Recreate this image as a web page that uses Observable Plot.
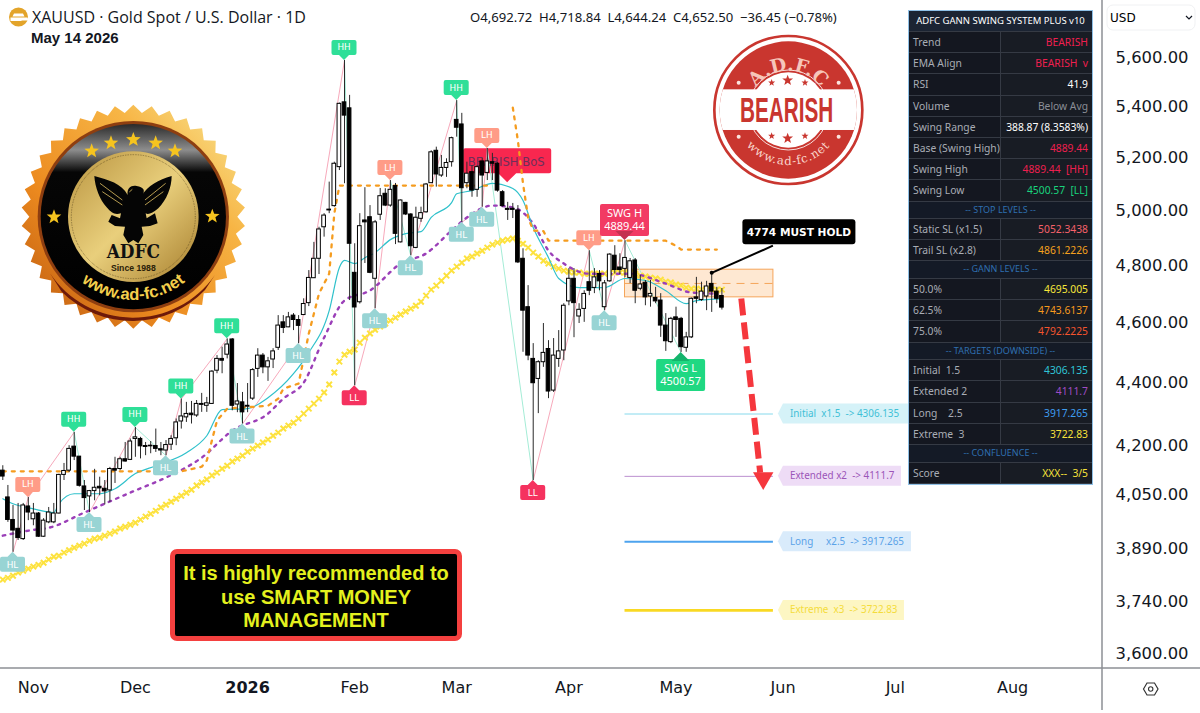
<!DOCTYPE html>
<html><head><meta charset="utf-8">
<script src="https://cdn.jsdelivr.net/npm/d3@7"></script>
<script src="https://cdn.jsdelivr.net/npm/@observablehq/plot@0.6"></script>
<style>
html,body{margin:0;padding:0;background:#fff;width:1200px;height:713px;overflow:hidden}
#wrap{position:relative;width:1200px;height:713px;font-family:"DejaVu Sans",sans-serif;color:#131722}
#chart{position:absolute;left:0;top:0}
#chart svg{display:block}
.abs{position:absolute;white-space:pre}
#panel{position:absolute;left:908px;top:10px;width:183px;border:1.5px solid #8fc0e6;background:#10141d;font:10.3px "Noto Sans",sans-serif;box-sizing:content-box}
#panel .r{display:flex;height:21.2px;line-height:20.2px;border-bottom:1px solid #353a44;box-sizing:border-box}
#panel .h{display:block;height:21px;line-height:20px;background:#1b2433;color:#fff;text-align:center;font-size:9.5px;white-space:nowrap}
#panel .s{height:17.6px;line-height:16.6px;background:#141a26;color:#2f6fb0;text-align:center;display:block;font-size:9px}
#panel .l{width:92px;padding-left:4px;color:#a9adb5;border-right:1px solid #353a44;box-sizing:border-box;background:#141720;white-space:pre}
#panel .v{flex:1;text-align:right;padding-right:4px;background:#181c24;white-space:pre}
#msg{position:absolute;left:170px;top:549px;width:292px;height:92px;box-sizing:border-box;background:#000;border:5px solid #f4403f;border-radius:7px;color:#e4f01e;font:bold 20px/23.5px "Liberation Sans",sans-serif;text-align:center;padding-top:8px}
</style></head><body>
<div id="wrap">
<div id="chart"></div>
<svg class="abs" style="left:0;top:0" width="1200" height="713" id="chrome">
  <defs>
    <linearGradient id="burst" x1="0" y1="1" x2="1" y2="0"><stop offset="0" stop-color="#b9560f"/><stop offset=".35" stop-color="#ec8a1f"/><stop offset=".7" stop-color="#f7b545"/><stop offset="1" stop-color="#f8ec9c"/></linearGradient>
    <linearGradient id="disc" x1="0" y1="0" x2="1" y2="1"><stop offset="0" stop-color="#b8933f"/><stop offset=".5" stop-color="#e9cf7c"/><stop offset="1" stop-color="#a67d2c"/></linearGradient>
    <linearGradient id="dark" x1="0" y1="0" x2="0" y2="1"><stop offset="0" stop-color="#2a2a2a"/><stop offset=".14" stop-color="#8d8d8d"/><stop offset=".26" stop-color="#060606"/><stop offset="1" stop-color="#000"/></linearGradient>
    <path id="sealArc" d="M105,350 A250,250 0 0 0 605,350"/>
    <path id="stampTop" d="M132,240 A118,118 0 0 1 368,240"/>
    <path id="stampBot" d="M85,240 A165,165 0 0 0 415,240"/>
    <clipPath id="stampClip"><circle cx="250" cy="240" r="206"/></clipPath>
  </defs>
  <line x1="0" y1="668" x2="1200" y2="668" stroke="#8d8f94" stroke-width="1.5"/>
  <line x1="1102" y1="0" x2="1102" y2="710" stroke="#8d8f94" stroke-width="1.5"/>
  <rect x="1107" y="5" width="88" height="25" rx="6" fill="#fff" stroke="#f0f1f3"/>
  <text x="1110" y="22" font-size="12">USD</text>
  <path d="M1186,16 l3,3 l3,-3" fill="none" stroke="#131722" stroke-width="1.2"/>
  <path d="M1143.5,689 l3.5,-6 h7.5 l3.5,6 l-3.5,6 h-7.5 z" fill="none" stroke="#333" stroke-width="1.2"/>
  <circle cx="1150.7" cy="689" r="2.2" fill="none" stroke="#333" stroke-width="1.1"/>
  <circle cx="18.5" cy="17" r="9.5" fill="#e3a42a"/>
  <path d="M14,13.5 h9 l1.5,3 h-12 z M10.5,17.5 h17 l1,3 h-7 v.5 h-11 z" fill="#fff"/>
  <text x="32" y="22.5" font-family="Open Sans" font-size="16" fill="#131722" xml:space="preserve">XAUUSD · Gold Spot / U.S. Dollar · 1D</text>
  <text x="31" y="43" font-family="Liberation Sans" font-weight="bold" font-size="15" fill="#131722">May 14 2026</text>
  <text x="470" y="22" font-family="Noto Sans" font-size="13.1" fill="#131722" xml:space="preserve">O4,692.72  H4,718.84  L4,644.24  C4,652.50  −36.45 (−0.78%)</text>

  <g transform="translate(15,100) scale(.3333)" id="seal">
    <path id="sealBurst" fill="url(#burst)"/>
    <path d="M105,520 A300,300 0 0 0 600,525 L570,570 A300,300 0 0 1 140,575 Z" fill="#6d1a0a"/>
    <circle cx="355" cy="350" r="287" fill="#8e3e10"/>
    <circle cx="355" cy="350" r="278" fill="url(#dark)"/>
    <circle cx="355" cy="350" r="196" fill="url(#disc)"/>
    <circle cx="355" cy="350" r="186" fill="none" stroke="#4a3a16" stroke-width="2" stroke-dasharray="2 3"/>
    <path fill="#050505" d="M238,228 C280,240 320,250 338,285 C335,262 350,255 365,258 C385,262 395,270 378,290 C400,255 430,240 470,228 C470,262 455,300 430,325 C412,340 400,345 392,340 L395,355 L420,340 L428,370 L405,378 L380,380 L385,405 L370,430 L355,420 L340,430 L325,405 L330,380 L300,378 L280,365 L290,345 L315,355 L318,340 C300,345 290,340 275,322 C255,300 240,262 238,228 Z"/>
    <path d="M255,250 L322,300 M262,275 L322,315 M452,250 L390,300 M445,275 L390,315 M352,268 l-9,8" stroke="#d9b95f" stroke-width="2.5" fill="none"/>
    <text x="355" y="474" text-anchor="middle" font-family="DejaVu Serif" font-weight="bold" font-size="54" fill="#111" textLength="160" lengthAdjust="spacingAndGlyphs">ADFC</text>
    <text x="355" y="514" text-anchor="middle" font-family="Liberation Sans Narrow,Liberation Sans" font-weight="bold" font-size="26" fill="#2a2008">Since 1988</text>
    <text font-family="Liberation Sans Narrow,Liberation Sans" font-weight="bold" font-size="50" fill="#f4cf4c"><textPath href="#sealArc" startOffset="50%" text-anchor="middle">www.ad-fc.net</textPath></text>
    <g id="sealStars" fill="#f6c41f"></g>
  </g>

  <g transform="translate(705,30) scale(.3333)" id="stamp">
    <circle cx="250" cy="240" r="222" fill="#fff" stroke="#c9362f" stroke-width="8"/>
    <circle cx="250" cy="240" r="206" fill="#c9362f"/>
    <g clip-path="url(#stampClip)"><rect x="0" y="178" width="510" height="122" fill="#fff"/></g>
    <circle cx="250" cy="240" r="113" fill="#fff"/>
    <circle cx="250" cy="240" r="120" fill="none" stroke="#fff" stroke-width="2.5"/>
    <text x="245" y="276" text-anchor="middle" font-family="Liberation Sans Narrow,Liberation Sans" font-weight="bold" font-size="104" fill="#c9362f" textLength="280" lengthAdjust="spacingAndGlyphs">BEARISH</text>
    <text font-family="DejaVu Serif" font-weight="bold" font-size="56" fill="#f6c6bb"><textPath href="#stampTop" startOffset="50%" text-anchor="middle">A.D.F.C</textPath></text>
    <text font-family="DejaVu Serif" font-size="35" fill="#f9d6cd" letter-spacing="2.5"><textPath href="#stampBot" startOffset="50%" text-anchor="middle">www.ad-fc.net</textPath></text>
    <g id="stampMarks"></g>
  </g>
</svg>
<div id="panel"></div>
<div id="msg">It is highly recommended to<br>use SMART MONEY<br>MANAGEMENT</div>
</div>
<script>
// Daily candles, one entry per bar
const candleOpen=[4123,4042,3975,3949,3919,4015,3977,3994,3926,3968,
3968,3994,4110,4123,4197,4166,4075,4045,4061,4074,
4068,4063,4128,4128,4158,4156,4221,4221,4199,4198,
4199,4189,4185,4203,4223,4276,4289,4301,4295,4332,
4326,4332,4440,4479,4493,4544,4330,4337,4323,4349,
4446,4490,4451,4477,4516,4602,4585,4625,4610,4627,
4668,4755,4824,4938,5003,5016,5163,5417,5393,4774,
4671,4963,4975,4753,4984,5062,5018,5091,4883,5028,
4985,4863,4969,4993,5102,5226,5131,5160,5182,5347,
5329,5102,5144,5077,5185,5141,5182,5176,5068,5006,
5006,5000,4824,4654,4479,4413,4468,4512,4375,4479,
4507,4674,4753,4622,4648,4741,4721,4770,4654,4744,
4835,4793,4788,4756,4818,4718,4739,4691,4686,4677,
4591,4535,4619,4614,4516,4551,4688,4679,4691,4735,
4708,4692.72];
const candleHigh=[4138,4078,4018,4024,4024,4042,4024,3997,3979,4012,
4024,4112,4145,4200,4242,4166,4093,4063,4127,4103,
4093,4133,4164,4164,4210,4221,4257,4226,4210,4213,
4252,4210,4216,4231,4284,4348,4337,4340,4343,4366,
4353,4440,4490,4518,4546,4547,4398,4369,4398,4447,
4513,4497,4484,4513,4625,4625,4636,4632,4625,4683,
4782,4883,4938,4988,5106,5182,5414,5588,5445,4878,
4988,5085,5018,4963,5082,5081,5112,5101,5039,5030,
4988,5012,5012,5101,5226,5240,5208,5195,5279,5424,
5373,5182,5169,5169,5196,5235,5216,5182,5074,5030,
5026,5018,4860,4729,4530,4473,4598,4540,4547,4574,
4666,4789,4789,4666,4711,4853,4789,4782,4747,4842,
4871,4842,4889.44,4825,4825,4764,4747,4747,4723,4701,
4632,4619,4654,4619,4568,4686,4758,4741,4744,4774,
4723,4718.84];
const candleLow=[4093,3968,3881,3915,3915,3973,3958,3924,3924,3964,
3964,3993,4093,4117,4154,4073,4003,3997,4032,4047,
4020,4027,4084,4123,4149,4154,4164,4159,4169,4175,
4179,4169,4169,4185,4200,4252,4273,4268,4289,4305,
4305,4331,4430,4430,4479,4310,4304,4268,4304,4343,
4418,4430,4405,4447,4507,4564,4584,4574,4530,4625,
4656,4754,4768,4902,4988,5012,5150,5100,4677,4391,
4665,4807,4771,4649,4963,5014,5012,4875,4881,4981,
4835,4860,4956,4990,5101,5087,5124,5124,5163,5279,
4956,5081,5049,5049,5012,5112,5112,5068,5012,4963,
4970,4807,4501,4473,4093,4301,4451,4349,4369,4451,
4473,4659,4550,4598,4602,4694,4701,4711,4642,4741,
4770,4768,4758,4736,4666,4711,4659,4654,4666,4551,
4504,4530,4551,4500.57,4501,4547,4666,4674,4642,4636,
4666,4644.24];
const candleClose=[4105,3975,3944,3922,4018,3997,3994,3926,3973,3997,
3994,4110,4122,4190,4166,4077,4040,4061,4071,4069,
4060,4128,4123,4158,4151,4213,4226,4198,4196,4200,
4190,4185,4202,4221,4273,4292,4300,4296,4332,4329,
4334,4437,4479,4473,4527,4326,4340,4305,4326,4442,
4490,4451,4471,4504,4591,4583,4619,4610,4590,4665,
4756,4824,4930,4981,5000,5176,5411,5364,4878,4653,
4942,4956,4774,4956,5053,5018,5077,4914,5037,4985,
4869,4973,4990,5097,5220,5135,5160,5179,5275,5316,
5083,5138,5074,5163,5131,5185,5176,5074,5016,5002,
5002,4811,4642,4490,4399,4468,4499,4372,4490,4504,
4659,4753,4668,4645,4700,4711,4758,4744,4737,4839,
4784,4784,4827,4815,4711,4733,4688,4700,4674,4591,
4538,4614,4610,4518,4551,4683,4683,4708,4726,4708,
4683,4652.5];
// Slow EMA, one value per bar (yellow crosses)
const emaSlow=[3803,3808,3814,3823,3828,3834,3840,3845,3851,3860,
3868,3871,3880,3887,3894,3900,3906,3914,3920,3923,
3929,3935,3941,3950,3955,3961,3967,3976,3985,3993,
4002,4012,4020,4029,4038,4047,4056,4065,4078,4087,
4096,4108,4117,4129,4138,4151,4160,4169,4181,4191,
4200,4210,4219,4231,4241,4254,4263,4272,4285,4301,
4317,4333,4349,4369,4395,4434,4470,4493,4503,4510,
4533,4550,4564,4577,4588,4598,4608,4618,4629,4639,
4649,4659,4673,4694,4715,4729,4746,4764,4782,4796,
4810,4825,4832,4843,4853,4864,4875,4882,4889,4893,
4897,4889,4878,4864,4846,4832,4817,4807,4796,4789,
4782,4778,4775,4775,4771,4771,4771,4771,4771,4775,
4775,4775,4775,4775,4771,4764,4761,4757,4754,4750,
4743,4740,4733,4729,4722,4718,4718,4715,4715,4715,
4715,4715];
// Mid EMA (purple), read at these bars
const emaMidBar=[0,6,9,16,26,32,39,45,52,55,59,63,67,72,78,83,88,91,96,100,104,107,110,115,123,130,135,140];
const emaMidVal=[3929,3946,3952,3997,4063,4102,4163,4247,4301,4349,4401,4550,4677,4712,4807,4843,4926,4974,5018,5011,4951,4853,4807,4771,4771,4736,4705,4701];
// Fast EMA (cyan), read at these bars
const emaFastBar=[0,2,6,10,11,14,19,22,26,30,36,40,43,48,52,57,60,64,66,67,69,71,73,76,79,82,84,88,89,92,96,100,102,104,107,109,113,118,122,126,130,134,136,141];
const emaFastVal=[4038,4023,4008,3997,4023,4053,4053,4068,4114,4138,4178,4231,4314,4317,4352,4430,4500,4642,4793,4818,4807,4828,4846,4893,4915,4922,4974,5029,5062,5074,5101,5082,5037,4937,4828,4754,4722,4722,4754,4747,4711,4666,4677,4683];
// Orange trailing stop, two runs
const trailABar=[0,35,39,40,41,42,44,52,54,55,58,60,62,64,65,66,96];
const trailAVal=[4121,4121,4135,4154,4216,4279,4317,4326,4349,4381,4398,4564,4701,4771,4988,5093,5093];
const trailBBar=[100,101,102,103,104,106,107,130,132,133,140];
const trailBVal=[5396,5265,5101,4974,4926,4924,4889,4889,4871,4857,4857];
// Swing structure, in order
const swingBar=[2,5,14,17,26,32,35,44,47,58,67,69,73,76,80,89,90,94,95,104,115,118,122,133];
const swingVal=[3881,4042,4242,3997,4257,4169,4348,4546,4268,4530,5588,4391,4649,5112,4835,5424,4956,5012,5235,4093,4853,4642,4889.44,4500.57];
const swingKind=["HL","LH","HH","HL","HH","HL","HH","HH","HL","HL","HH","LL","HL","LH","HL","HH","HL","HL","LH","LL","LH","HL","SWG H","SWG L"];
const swingTexts={"SWG H":"4889.44","SWG L":"4500.57"};
// Gann zone and targets
const gannNames=["50.0%","62.5%","75.0%"];
const gannLevels=[4695.005,4743.6137,4792.2225];
const targetNames=["Initial  x1.5  -> 4306.135","Extended x2  -> 4111.7","Long     x2.5  -> 3917.265","Extreme  x3  -> 3722.83"];
const targetLevels=[4306.135,4111.7,3917.265,3722.83];
const targetLine=["#86d9ec","#bb8fcf","#4da3ee","#f9d923"];
const targetFill=["#d5f2f8","#eedcf6","#d9ebfb","#fdf6c3"];
const targetInk=["#3fc0d6","#9b55b8","#5aa2e8","#f4dc3b"];
const targetWidth=[1,1,2,2.6];
const targetTagWidth=[125,118,128,121];
// Annotations
const priceTicks=[3600,3740,3890,4050,4200,4400,4600,4800,5000,5200,5400,5600];
const monthBars=[6,26,69,89,111,132,153,175,198];
const monthNames=["Nov","Dec","Feb","Mar","Apr","May","Jun","Jul","Aug"];
const yearBars=[48];
const yearNames=["2026"];
const holdBars=[139,151];
const holdVals=[4774,4871];
const arrowBars=[144.8,148.5];
const arrowVals=[4684,4117];
const arrowTip=[149.1,4100];
const bos=[99,5104];
const zoneBars=[122,151.1];
const tagBar=151.1;

const idx=candleOpen.map((_,i)=>i);
const rows=idx.map(i=>({i,o:candleOpen[i],h:candleHigh[i],l:candleLow[i],c:candleClose[i]}));
const pts=(b,v)=>b.map((x,k)=>({x,y:v[k]}));
const swings=swingBar.map((x,k)=>({x,y:swingVal[k],k:swingKind[k]}));
const legs=swings.slice(1).map((s,k)=>({x1:swings[k].x,y1:swings[k].y,x2:s.x,y2:s.y,up:s.y>swings[k].y}));
const NS="http://www.w3.org/2000/svg";
const el=(n,a,t)=>{const e=document.createElementNS(NS,n);for(const k in a)e.setAttribute(k,a[k]);if(t!=null)e.textContent=t;return e};
const kindFill={HH:"#2fdf98",LH:"#ff9c87",HL:"#98d4d4",LL:"#f5325f"};

function swingLabels(_,scales){
  const g=el("g",{"font-family":"DejaVu Sans"});
  for(const s of swings){
    const x=scales.x(s.x),y=scales.y(s.y);
    if(s.k==="SWG H"||s.k==="SWG L"){
      const up=s.k==="SWG H";
      const top=up?y-36:y+7,fill=up?"#f23a63":"#1fd882",tip=up?"#c43250":"#14b46c";
      g.append(el("rect",{x:x-24.5,y:top,width:49,height:32,rx:2,fill}));
      g.append(el("path",{d:up?`M${x-9},${y-9}h18l-9,9z`:`M${x-9},${y+9}h18l-9,-9z`,fill:tip}));
      g.append(el("text",{x,y:top+13,"text-anchor":"middle","font-family":"Noto Sans","font-size":11,fill:"#fff"},s.k));
      g.append(el("text",{x,y:top+26,"text-anchor":"middle","font-family":"Noto Sans","font-size":11,fill:"#fff"},swingTexts[s.k]));
      continue;
    }
    const up=s.k==="HH"||s.k==="LH",fill=kindFill[s.k];
    const d=up?`M${x},${y}l-5,-5h-5.5a2,2 0 0 1 -2,-2v-11a2,2 0 0 1 2,-2h21a2,2 0 0 1 2,2v11a2,2 0 0 1 -2,2h-5.5z`
              :`M${x},${y}l5,5h5.5a2,2 0 0 1 2,2v11a2,2 0 0 1 -2,2h-21a2,2 0 0 1 -2,-2v-11a2,2 0 0 1 2,-2h5.5z`;
    g.append(el("path",{d,fill}));
    g.append(el("text",{x,y:up?y-9.5:y+16,"text-anchor":"middle","font-size":8.8,fill:"#fff"},s.k));
  }
  return g;
}
function bosLabel(_,scales){
  const x=scales.x(bos[0]),y=scales.y(bos[1]);
  const g=el("g",{});
  g.append(el("path",{d:`M${x},${y}l-9,-9h-33a2,2 0 0 1 -2,-2v-21a2,2 0 0 1 2,-2h84a2,2 0 0 1 2,2v21a2,2 0 0 1 -2,2h-33z`,fill:"#f8274f"}));
  g.append(el("text",{x:x-1,y:y-16,"text-anchor":"middle","font-family":"DejaVu Sans","font-size":11.6,fill:"#6e2f5a"},"BEARISH BoS"));
  return g;
}
function targetTags(_,scales){
  const g=el("g",{"font-family":"Noto Sans"});
  targetLevels.forEach((v,k)=>{
    const x=scales.x(tagBar)+5,y=scales.y(v)+2;
    g.append(el("path",{d:`M${x},${y}l5,-10h${targetTagWidth[k]}v20h-${targetTagWidth[k]}z`,fill:targetFill[k]}));
    const t=el("text",{x:x+12,y:y+3.5,"text-anchor":"start","font-size":9.9,fill:targetInk[k],"xml:space":"preserve"},targetNames[k]);
    t.style.whiteSpace="pre";g.append(t);
  });
  return g;
}
function holdLabel(_,scales){
  const x=scales.x(holdBars[1]),y=scales.y(holdVals[1]);
  const g=el("g",{});
  g.append(el("rect",{x:x-30,y:y-26,width:113,height:25,rx:3,fill:"#000"}));
  g.append(el("text",{x:x+26.5,y:y-9.5,"text-anchor":"middle","font-family":"DejaVu Sans","font-weight":"bold","font-size":10.6,fill:"#fff"},"4774 MUST HOLD"));
  return g;
}

const chart=Plot.plot({
  width:1200,height:713,marginTop:0,marginLeft:0,marginRight:99,marginBottom:46,
  style:{background:"transparent",fontFamily:"DejaVu Sans",color:"#131722",overflow:"visible"},
  x:{type:"linear",domain:[-0.451,215.43],range:[0,1101],label:null},
  y:{type:"log",domain:[3563.3,5841.7],range:[667,0],label:null},
  marks:[
    Plot.rect([0],{x1:zoneBars[0],x2:zoneBars[1],y1:gannLevels[0],y2:gannLevels[2],dy:2,fill:"#fbb46a",fillOpacity:.3,stroke:"#f5a55a",strokeWidth:1}),
    Plot.ruleY([gannLevels[1]],{x1:zoneBars[0],x2:zoneBars[1],dy:2,stroke:"#f5a55a",strokeWidth:1,strokeDasharray:"8 6"}),
    bosLabel,
    Plot.link(legs.filter(d=>d.up),{x1:"x1",y1:"y1",x2:"x2",y2:"y2",stroke:"#f7a9bb",strokeWidth:1}),
    Plot.link(legs.filter(d=>!d.up),{x1:"x1",y1:"y1",x2:"x2",y2:"y2",stroke:"#a4ecd6",strokeWidth:1}),
    ...targetLevels.map((v,k)=>Plot.ruleY([v],{x1:zoneBars[0],x2:zoneBars[1],dy:2,stroke:targetLine[k],strokeWidth:targetWidth[k]})),
    Plot.dot(idx.map(i=>({x:i,y:emaSlow[i]})),{x:"x",y:"y",symbol:"times",r:2.6,stroke:"#fde23e",strokeWidth:2}),
    Plot.line(pts(emaMidBar,emaMidVal),{x:"x",y:"y",stroke:"#9b3fb8",strokeWidth:2.4,strokeDasharray:"2.5 5.5",curve:"monotone-x"}),
    Plot.line(pts(emaFastBar,emaFastVal),{x:"x",y:"y",stroke:"#2fc1cb",strokeWidth:1.2,curve:"monotone-x"}),
    Plot.line(pts(trailABar,trailAVal),{x:"x",y:"y",stroke:"#f59c1f",strokeWidth:2.3,strokeDasharray:"3 6"}),
    Plot.line(pts(trailBBar,trailBVal),{x:"x",y:"y",stroke:"#f59c1f",strokeWidth:2.3,strokeDasharray:"3 6"}),
    Plot.ruleX(rows,{x:"i",y1:"l",y2:"h",stroke:"#2a2a2a",strokeWidth:1}),
    Plot.rect(rows,{x1:d=>d.i-.36,x2:d=>d.i+.36,y1:"o",y2:"c",fill:d=>d.c>=d.o?"#fff":"#000",stroke:"#000",strokeWidth:1}),
    swingLabels,
    Plot.link([0],{x1:holdBars[0],y1:holdVals[0],x2:holdBars[1],y2:holdVals[1],stroke:"#000",strokeWidth:2}),
    Plot.dot([0],{x:holdBars[0],y:holdVals[0],r:2,fill:"#000"}),
    holdLabel,
    Plot.link([0],{x1:arrowBars[0],y1:arrowVals[0],x2:arrowBars[1],y2:arrowVals[1],stroke:"#f5373d",strokeWidth:6,strokeDasharray:"17 7"}),
    Plot.dot([0],{x:arrowTip[0],y:arrowTip[1],symbol:"triangle",r:7.6,rotate:180,fill:"#f5373d"}),
    targetTags,
    Plot.axisY({anchor:"right",ticks:priceTicks,tickSize:0,tickPadding:14,tickFormat:d3.format(",.2f"),fontSize:16.4,label:null}),
    Plot.axisX({ticks:monthBars,tickSize:0,tickPadding:14,tickFormat:v=>monthNames[monthBars.indexOf(v)],fontSize:16,label:null}),
    Plot.axisX({ticks:yearBars,tickSize:0,tickPadding:14,tickFormat:v=>yearNames[yearBars.indexOf(v)],fontSize:16,fontWeight:"bold",label:null})
  ]
});
document.getElementById("chart").append(chart);

// Seal decoration
(function(){
  const n=38,c=[355,350];let d="";
  for(let k=0;k<n*2;k++){const a=k*Math.PI/n,r=k%2?336:312;d+=(k?"L":"M")+(c[0]+r*Math.cos(a)).toFixed(1)+","+(c[1]+r*Math.sin(a)).toFixed(1)}
  document.getElementById("sealBurst").setAttribute("d",d+"Z");
  const star=(x,y,r)=>{let p="";for(let k=0;k<10;k++){const a=-Math.PI/2+k*Math.PI/5,q=k%2?r*.42:r;p+=(k?"L":"M")+(x+q*Math.cos(a)).toFixed(1)+","+(y+q*Math.sin(a)).toFixed(1)}return p+"Z"};
  const g=document.getElementById("sealStars");
  [[230,153],[288,129],[355,119],[422,129],[480,153],[117,351],[592,349]].forEach(s=>g.append(el("path",{d:star(s[0],s[1],23)})));
  const m=document.getElementById("stampMarks");
  [[200,158,11],[248,151,17],[300,158,11],[200,318,11],[248,325,17],[300,318,11]].forEach(s=>m.append(el("path",{d:star(s[0],s[1],s[2]),fill:"#c9362f"})));
  [[101,158],[401,158],[101,320],[401,320]].forEach(s=>m.append(el("circle",{cx:s[0],cy:s[1],r:6,fill:"#fbe4de"})));
})();

// Table panel
const panelRows=[
 ["h","ADFC GANN SWING SYSTEM PLUS v10"],
 ["r","Trend","BEARISH","#ef1f4f"],["r","EMA Align","BEARISH  v","#ef1f4f"],["r","RSI","41.9","#fff"],["r","Volume","Below Avg","#8a8e96"],
 ["r","Swing Range","388.87 (8.3583%)","#fff"],["r","Base (Swing High)","4889.44","#ef1f4f"],["r","Swing High","4889.44  [HH]","#ef1f4f"],["r","Swing Low","4500.57  [LL]","#19d47d"],
 ["s","-- STOP LEVELS --"],
 ["r","Static SL (x1.5)","5052.3438","#f6616a"],["r","Trail SL (x2.8)","4861.2226","#f5a21e"],
 ["s","-- GANN LEVELS --"],
 ["r",gannNames[0],"4695.005","#f7e83a"],["r",gannNames[1],"4743.6137","#f59a1e"],["r",gannNames[2],"4792.2225","#f4552e"],
 ["s","-- TARGETS (DOWNSIDE) --"],
 ["r","Initial  1.5","4306.135","#2fc4d6"],["r","Extended 2","4111.7","#a04cc4"],["r","Long    2.5","3917.265","#3f9df0"],["r","Extreme  3","3722.83","#f7e23a"],
 ["s","-- CONFLUENCE --"],
 ["r","Score","XXX--  3/5","#f7e23a"]
];
document.getElementById("panel").innerHTML=panelRows.map(r=>r[0]==="r"
 ?`<div class="r"><div class="l">${r[1]}</div><div class="v" style="color:${r[3]}">${r[2]}</div></div>`
 :`<div class="r ${r[0]}">${r[1]}</div>`).join("");
</script>
</body></html>
